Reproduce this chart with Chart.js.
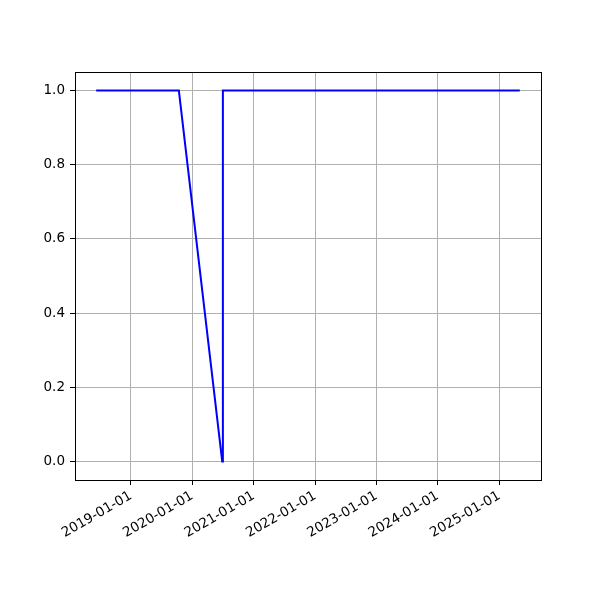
<!DOCTYPE html>
<html>
<head>
<meta charset="utf-8">
<script src="https://cdn.jsdelivr.net/npm/chart.js@4"></script>
<style>
  html, body { margin: 0; padding: 0; background: #fff; }
  #wrap { width: 600px; height: 600px; }
</style>
</head>
<body>
<div id="wrap"><canvas id="chart" width="600" height="600"></canvas></div>
<script>
// data
const dates = ['2018-06-08', '2019-10-13', '2020-06-27', '2020-07-01', '2025-05-03'];
const values = [1, 1, 0, 1, 1];
const xTickDates = ['2019-01-01', '2020-01-01', '2021-01-01', '2022-01-01', '2023-01-01', '2024-01-01', '2025-01-01'];
const yTicks = [0.0, 0.2, 0.4, 0.6, 0.8, 1.0];

const times = dates.map(d => Date.parse(d));
const span = times[times.length - 1] - times[0];
const xMin = times[0] - 0.05 * span;
const xMax = times[times.length - 1] + 0.05 * span;

const fmt = v => {
    const d = new Date(v);
    const p = n => String(n).padStart(2, '0');
    return d.getUTCFullYear() + '-' + p(d.getUTCMonth() + 1) + '-' + p(d.getUTCDate());
};

// black box round the plot area, like the axes spines
const frame = {
    id: 'frame',
    afterDatasetsDraw(chart) {
        const a = chart.chartArea;
        const c = chart.ctx;
        c.save();
        c.strokeStyle = '#000';
        c.lineWidth = 1;
        c.strokeRect(Math.round(a.left) + 0.5, Math.round(a.top) + 0.5,
            Math.round(a.right - a.left), Math.round(a.bottom - a.top));
        c.restore();
    }
};

const font = { family: 'DejaVu Sans', size: 13.5 };

const ctx = document.getElementById('chart').getContext('2d');
const chart = new Chart(ctx, {
    type: 'line',
    data: {
        datasets: [{
            data: times.map((t, i) => ({ x: t, y: values[i] })),
            borderColor: '#0000ff',
            borderWidth: 2,
            pointRadius: 0,
            tension: 0,
            fill: false
        }]
    },
    options: {
        responsive: false,
        animation: false,
        layout: { padding: { top: 72, right: 59, left: 0, bottom: 0 } },
        plugins: { legend: { display: false }, tooltip: { enabled: false } },
        scales: {
            x: {
                type: 'linear',
                min: xMin,
                max: xMax,
                afterBuildTicks: s => { s.ticks = xTickDates.map(d => ({ value: Date.parse(d) })); },
                afterFit: s => { s.height = 120; },
                grid: { color: '#b0b0b0', lineWidth: 1, tickColor: '#000', tickLength: 5 },
                border: { display: false },
                ticks: {
                    color: '#000',
                    font: font,
                    padding: 3,
                    minRotation: 30,
                    maxRotation: 30,
                    autoSkip: false,
                    callback: v => fmt(v)
                }
            },
            y: {
                min: -0.05,
                max: 1.05,
                afterBuildTicks: s => { s.ticks = yTicks.map(v => ({ value: v })); },
                afterFit: s => { s.width = 75; },
                grid: { color: '#b0b0b0', lineWidth: 1, tickColor: '#000', tickLength: 5 },
                border: { display: false },
                ticks: {
                    color: '#000',
                    font: font,
                    padding: 5,
                    callback: v => Number(v).toFixed(1)
                }
            }
        }
    },
    plugins: [frame]
});
</script>
</body>
</html>
